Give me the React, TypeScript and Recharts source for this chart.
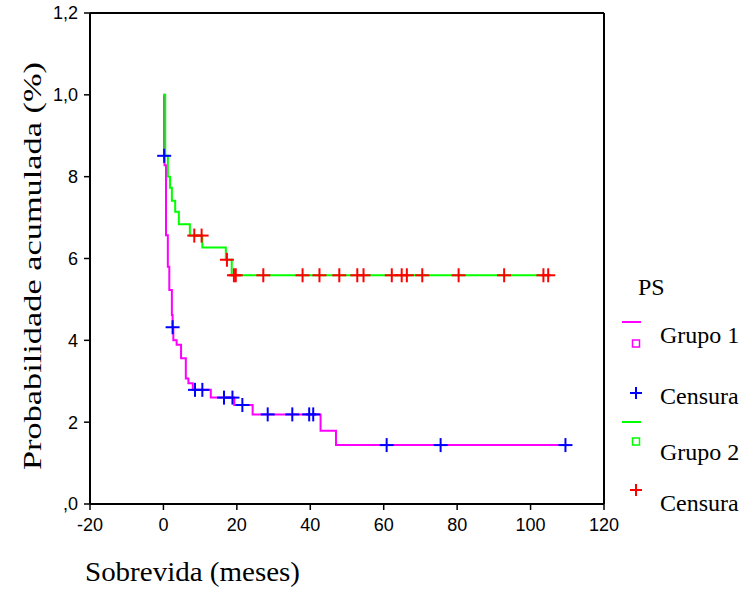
import React from 'react';
import { ComposedChart, Line, Scatter, XAxis, YAxis, ReferenceLine } from 'recharts';

const xTicks = [-20, 0, 20, 40, 60, 80, 100, 120];
const yTicks = [0, 0.2, 0.4, 0.6, 0.8, 1.0, 1.2];
const yTickLabels = [',0', '2', '4', '6', '8', '1,0', '1,2'];

// Grupo 1: step curve (months, cumulative probability)
const g1Time = [0, 0.2, 0.3, 0.7, 1.2, 1.6, 2.3, 2.5, 2.7, 3.6, 4.8, 6.1, 6.8, 8.0, 12.9, 19.3, 24.3, 42.8, 47.0, 110.2];
const g1Surv = [1.0, 0.851, 0.828, 0.657, 0.58, 0.523, 0.462, 0.432, 0.40, 0.389, 0.356, 0.307, 0.295, 0.279, 0.26, 0.242, 0.219, 0.179, 0.144, 0.144];
const g1CensTime = [0.2, 2.5, 8.6, 10.6, 16.5, 18.8, 21.5, 28.4, 35.1, 39.7, 40.8, 60.8, 75.5, 109.5];
const g1CensSurv = [0.851, 0.432, 0.279, 0.279, 0.26, 0.26, 0.242, 0.219, 0.219, 0.219, 0.219, 0.144, 0.144, 0.144];

// Grupo 2
const g2Time = [0, 0.5, 1.2, 1.8, 2.3, 3.2, 4.2, 7.2, 10.6, 17.0, 18.6, 104.8];
const g2Surv = [1.0, 0.851, 0.80, 0.773, 0.741, 0.714, 0.684, 0.656, 0.627, 0.597, 0.559, 0.559];
const g2CensTime = [8.4, 10.4, 17.3, 19.2, 19.7, 27.2, 37.9, 42.5, 47.9, 52.8, 54.5, 62.2, 64.9, 66.3, 70.5, 80.4, 92.8, 103.5, 104.8];
const g2CensSurv = [0.656, 0.656, 0.597, 0.559, 0.559, 0.559, 0.559, 0.559, 0.559, 0.559, 0.559, 0.559, 0.559, 0.559, 0.559, 0.559, 0.559, 0.559, 0.559];

const zip = (t: number[], p: number[]) => t.map((v, i) => ({ t: v, p: p[i] }));

const g1Line = zip(g1Time, g1Surv);
const g1Cens = zip(g1CensTime, g1CensSurv);
const g2Line = zip(g2Time, g2Surv);
const g2Cens = zip(g2CensTime, g2CensSurv);

const sans = '"Liberation Sans", Arial, sans-serif';
const serif = '"Liberation Serif", "Times New Roman", serif';

const plus = (color: string) => (props: any) => {
  const { cx, cy } = props;
  return (
    <g stroke={color} strokeWidth={2}>
      <line x1={cx - 7} y1={cy} x2={cx + 7} y2={cy} />
      <line x1={cx} y1={cy - 7} x2={cx} y2={cy + 7} />
    </g>
  );
};

const Legend = () => (
  <svg width={742} height={589} style={{ position: 'absolute', left: 0, top: 0, pointerEvents: 'none' }}>
    <g fontFamily={serif} fontSize={24} fill="#000">
      <text x={638} y={295}>PS</text>
      <line x1={622} y1={322} x2={641} y2={322} stroke="#FF00FF" strokeWidth={2} />
      <rect x={632.5} y={340} width={7} height={7} fill="none" stroke="#FF00FF" strokeWidth={1.5} />
      <text x={660} y={343}>Grupo 1</text>
      <line x1={630} y1={393} x2={642} y2={393} stroke="#0000FF" strokeWidth={2} />
      <line x1={636} y1={387} x2={636} y2={399} stroke="#0000FF" strokeWidth={2} />
      <text x={660} y={404}>Censura</text>
      <line x1={622} y1={422} x2={641} y2={422} stroke="#00FF00" strokeWidth={2} />
      <rect x={632.5} y={438} width={7} height={7} fill="none" stroke="#00FF00" strokeWidth={1.5} />
      <text x={660} y={460}>Grupo 2</text>
      <line x1={630} y1={490} x2={642} y2={490} stroke="#FF0000" strokeWidth={2} />
      <line x1={636} y1={484} x2={636} y2={496} stroke="#FF0000" strokeWidth={2} />
      <text x={660} y={511}>Censura</text>
    </g>
  </svg>
);

export default function App() {
  return (
    <div style={{ position: 'absolute', left: 0, top: 0, width: 742, height: 589, background: '#fff' }}>
      <ComposedChart width={742} height={589} margin={{ top: 13, right: 138, bottom: 55, left: 30 }}>
        <XAxis
          dataKey="t"
          type="number"
          domain={[-20, 120]}
          ticks={xTicks}
          allowDataOverflow
          height={30}
          axisLine={{ stroke: '#000', strokeWidth: 2 }}
          tickLine={{ stroke: '#000', strokeWidth: 1.5 }}
          tickSize={6}
          tickMargin={8}
          tick={{ fill: '#000', fontSize: 18, fontFamily: sans }}
          label={{
            content: () => (
              <text x={85} y={581} fontFamily={serif} fontSize={27} fill="#000" textLength={215} lengthAdjust="spacingAndGlyphs">
                Sobrevida (meses)
              </text>
            ),
          }}
        />
        <YAxis
          type="number"
          domain={[0, 1.2]}
          ticks={yTicks}
          width={60}
          axisLine={{ stroke: '#000', strokeWidth: 2 }}
          tickLine={{ stroke: '#000', strokeWidth: 1.5 }}
          tickSize={6}
          tickMargin={6}
          tick={{ fill: '#000', fontSize: 18, fontFamily: sans }}
          tickFormatter={(v: number) => yTickLabels[yTicks.findIndex((y) => Math.abs(y - v) < 1e-6)] ?? ''}
          label={{
            content: () => (
              <text
                x={0}
                y={0}
                transform="translate(41 470) rotate(-90)"
                fontFamily={serif}
                fontSize={25}
                fill="#000"
                textLength={408}
                lengthAdjust="spacingAndGlyphs"
              >
                Probabilidade acumulada (%)
              </text>
            ),
          }}
        />
        <ReferenceLine y={1.2} stroke="#000" strokeWidth={2} />
        <ReferenceLine x={120} stroke="#000" strokeWidth={2} />
        <Line data={g1Line} dataKey="p" type="stepAfter" stroke="#FF00FF" strokeWidth={2} dot={false} isAnimationActive={false} />
        <Line data={g2Line} dataKey="p" type="stepAfter" stroke="#00FF00" strokeWidth={2} dot={false} isAnimationActive={false} />
        <Scatter data={g1Cens} dataKey="p" shape={plus('#0000FF')} isAnimationActive={false} />
        <Scatter data={g2Cens} dataKey="p" shape={plus('#FF0000')} isAnimationActive={false} />
      </ComposedChart>
      <Legend />
    </div>
  );
}
